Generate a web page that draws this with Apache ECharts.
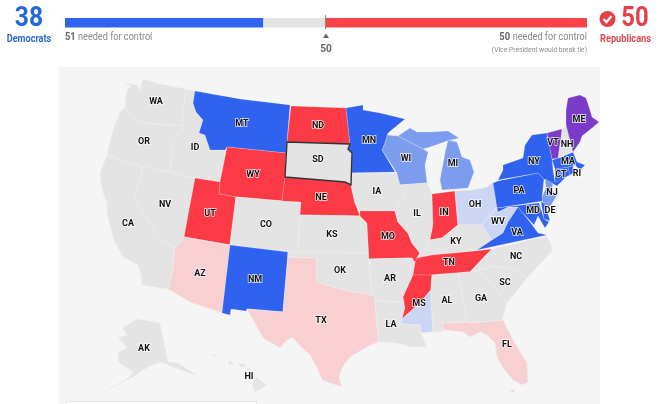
<!DOCTYPE html>
<html><head><meta charset="utf-8">
<script src="https://cdn.jsdelivr.net/npm/echarts@6/dist/echarts.min.js"></script>
<style>html,body{margin:0;padding:0;background:#fff}#c{width:660px;height:404px}</style>
</head><body><div id="c"></div>
<script>
// ---- chart values ----
const seatParties = ['Democrats', 'Undecided', 'Republicans'];
const seatValues = [38, 12, 50];
const needDem = 51, needRep = 50;

const regionCodes = ['WA','OR','CA','NV','ID','MT','WY','UT','CO','AZ','NM','ND','NE','KS','OK','TX','MN','IA','MO','AR','LA','WI','IL','IN','MI','OH','KY','TN','MS','MS2','AL','GA','FL','SC','NC','WV','VA','PA','NY','MD','DE','NJ','CT','RI','MA','NH','VT','ME','AK','HI','SD'];
const regionStatus = ['n','n','n','n','n','D','R','R','n','r','D','R','R','n','n','r','D','n','R','n','n','d','n','R','d','l','n','R','R','l','n','n','r','n','n','l','D','D','D','D','D','d','D','D','D','n','P','P','n','n','n'];
const unlabeled = ['MS2'];

const statusColors = {D:'#2e62ef', d:'#7c9ded', l:'#cbd6f5', R:'#fb3a45', r:'#f8d0d2', P:'#7a3cc8', n:'#e4e4e4'};

// ---- base map geometry (simplified outlines, 660x404 canvas space) ----
const outlines = {
WA:[[[125,83],[131,86],[127,90],[125,103],[125,108],[132,116],[140,122],[155,124],[182,126],[186,89],[160,84],[143,79],[141,85],[140,90],[137,85]]],
OR:[[[125,108],[132,116],[140,122],[155,124],[182,126],[183,130],[173,142],[170,172],[143,167],[107,155],[110,142],[113,130],[120,112]]],
CA:[[[107,155],[143,167],[134,198],[158,237],[175,248],[173,270],[168,289],[142,285],[141,275],[138,265],[123,257],[115,243],[112,233],[107,213],[107,203],[102,190],[100,173]]],
NV:[[[143,167],[170,172],[195,178],[184,237],[181,243],[175,248],[158,237],[134,198]]],
ID:[[[186,89],[195,91],[193,103],[196,112],[203,120],[199,133],[205,135],[210,150],[225,150],[227,147],[220,182],[195,178],[170,172],[173,142],[183,130],[182,126]]],
MT:[[[195,91],[240,99],[290,105],[287,142],[286,153],[227,147],[225,150],[210,150],[205,135],[199,133],[203,120],[196,112],[193,103]]],
WY:[[[227,147],[286,153],[285,178],[282,201],[236,197],[219,194],[220,182]]],
UT:[[[195,178],[220,182],[219,194],[236,197],[230,245],[184,237]]],
CO:[[[236,197],[282,201],[301,202],[300,215],[298,253],[288,252],[230,245]]],
AZ:[[[184,237],[230,245],[222,313],[190,302],[168,289],[173,270],[175,248],[181,243]]],
NM:[[[230,245],[288,252],[283,312],[247,309],[246,311],[231,309],[230,315],[222,313]]],
ND:[[[291,106],[346,108],[350,144],[287,142]]],
SD:[[[287,142],[350,144],[348,149],[352,153],[351,185],[345,182],[333,181],[285,177]]],
NE:[[[285,177],[333,181],[345,182],[351,185],[355,203],[360,216],[300,215],[301,202],[282,201]]],
KS:[[[300,215],[360,216],[367,223],[368,253],[298,253]]],
OK:[[[288,252],[368,253],[369,259],[372,295],[343,290],[317,282],[316,258],[288,257]]],
TX:[[[288,257],[316,258],[317,282],[343,290],[372,295],[375,297],[375,301],[378,337],[378,342],[367,347],[350,357],[342,368],[339,377],[342,387],[330,383],[322,380],[318,370],[310,355],[300,346],[293,338],[287,340],[280,348],[263,338],[247,309],[283,312]]],
MN:[[[346,108],[363,105],[363,110],[380,113],[405,119],[388,133],[385,143],[382,150],[395,172],[352,173],[352,153],[348,149],[350,144]]],
IA:[[[352,173],[397,173],[407,188],[398,207],[395,211],[360,211],[355,203],[351,185],[352,173]]],
MO:[[[360,211],[395,211],[398,222],[408,233],[412,243],[420,253],[417,258],[415,263],[412,258],[369,259],[368,242],[367,223],[360,216]]],
AR:[[[369,259],[412,258],[415,263],[413,275],[403,297],[404,302],[375,301],[375,297],[372,295]]],
LA:[[[375,301],[404,302],[405,308],[402,319],[401,324],[420,325],[421,333],[427,347],[410,347],[397,343],[378,342],[378,337]]],
WI:[[[387,135],[398,136],[423,149],[428,152],[425,165],[427,183],[400,185],[397,173],[382,150],[385,143]]],
IL:[[[400,185],[427,183],[432,193],[433,225],[430,240],[427,247],[420,253],[412,243],[408,233],[398,222],[395,211],[398,207],[407,188]]],
IN:[[[432,194],[455,191],[458,225],[442,238],[430,240],[433,225]]],
MI:[[[[448,140],[457,142],[462,157],[470,160],[474,172],[468,188],[442,190],[440,180],[445,153]]],[[[398,136],[410,128],[417,132],[430,132],[448,131],[459,138],[447,141],[430,147],[423,149]]]],
OH:[[[455,191],[473,190],[487,187],[493,182],[497,207],[490,215],[482,225],[473,225],[458,225]]],
KY:[[[420,253],[427,247],[430,240],[442,238],[458,225],[473,225],[482,225],[485,230],[492,240],[477,250],[432,255],[417,258]]],
TN:[[[417,258],[432,255],[475,251],[492,249],[488,253],[470,272],[458,273],[432,275],[413,275],[415,263]]],
MS:[[[413,275],[432,275],[431,290],[420,303],[402,319],[405,308],[404,302],[403,297]]],
MS2:[[[431,290],[433,332],[421,333],[420,325],[401,324],[402,319],[420,303]]],
AL:[[[432,275],[458,273],[467,322],[443,323],[444,330],[440,332],[433,332],[431,290]]],
GA:[[[458,273],[478,271],[490,281],[507,303],[502,320],[470,323],[467,322]]],
FL:[[[[443,323],[467,322],[470,323],[503,320],[513,340],[527,363],[528,382],[522,385],[513,380],[503,368],[497,357],[495,343],[487,335],[480,332],[470,337],[463,332],[443,330]]],[[[516,390],[512,393],[510,392],[514,389]]]],
SC:[[[478,271],[493,266],[510,268],[527,278],[507,303],[490,281]]],
NC:[[[470,272],[488,253],[492,249],[547,236],[553,250],[527,278],[510,268],[493,266],[478,271]]],
WV:[[[497,207],[498,212],[508,207],[518,207],[508,222],[503,233],[492,240],[485,230],[482,225],[490,215]]],
VA:[[[477,250],[492,240],[503,233],[508,222],[518,207],[522,212],[530,222],[538,233],[547,235]]],
PA:[[[493,183],[498,181],[538,173],[544,179],[542,197],[543,201],[497,208]]],
NY:[[[498,180],[503,170],[503,165],[523,158],[525,145],[532,135],[547,133],[552,159],[553,170],[555,182],[573,170],[557,186],[544,179],[538,173]]],
MD:[[[497,208],[539,203],[544,219],[549,222],[545,228],[538,216],[534,225],[522,212],[518,207],[508,207],[498,212]]],
DE:[[[541,202],[545,203],[550,221],[544,219]]],
NJ:[[[545,179],[553,183],[552,190],[557,195],[550,207],[543,203],[542,197],[546,188]]],
CT:[[[555,169],[568,167],[570,175],[555,182]]],
RI:[[[568,167],[573,166],[574,173],[570,175]]],
MA:[[[552,160],[558,158],[573,152],[577,162],[585,165],[580,170],[575,165],[568,167],[555,169]]],
NH:[[[562,129],[567,126],[573,152],[558,158]]],
VT:[[[547,133],[562,129],[558,158],[552,159]]],
ME:[[[566,125],[566,110],[568,98],[580,95],[586,98],[590,110],[592,117],[599,122],[592,128],[587,132],[582,136],[580,142],[573,152]]],
AK:[[[122,328],[137,319],[160,323],[168,362],[178,363],[197,375],[186,372],[176,368],[160,362],[148,367],[133,377],[103,392],[128,378],[133,372],[118,362],[118,353],[127,347],[118,338],[127,335]]],
HI:[[[[257,377],[267,385],[255,392],[252,384]]],[[[239,364],[246,364],[245,367],[240,367]]],[[[247,367],[251,369],[247,371]]],[[[229,360],[234,364],[229,365]]],[[[212,354],[216,355],[214,357]]]]
};
const multiParts = ['MI','HI','FL'];
const labelPoints = {WA:[156,102],OR:[144,142],ID:[195,148],MT:[242,124],CA:[128,224],NV:[165,205],UT:[210,214],WY:[253,175],CO:[266,225],AZ:[200,274],NM:[255,280],ND:[318,126],SD:[318,160],NE:[321,198],KS:[332,235],OK:[340,271],TX:[321,321],MN:[369,141],IA:[377,192],MO:[388,237],AR:[390,279],LA:[391,325],WI:[406,159],IL:[417,214],IN:[444,213],MI:[453,164],OH:[475,205],KY:[456,242],TN:[449,263],MS:[419,304],MS2:[425,320],AL:[447,301],GA:[481,299],FL:[507,345],SC:[505,283],NC:[516,257],VA:[517,233],WV:[498,222],PA:[519,191],NY:[534,162],MD:[533,211],DE:[550,211],NJ:[552,193],CT:[561,175],RI:[577,174],MA:[568,162],NH:[567,145],VT:[553,143],ME:[579,120],AK:[144,349],HI:[249,377]};

const geojson = {type:'FeatureCollection', features: regionCodes.map(code => ({
  type:'Feature',
  properties:{name:code, cp:labelPoints[code]},
  geometry:{type: multiParts.includes(code) ? 'MultiPolygon' : 'Polygon', coordinates: outlines[code]}
}))};
echarts.registerMap('usa', geojson);

const chart = echarts.init(document.getElementById('c'), null, {renderer:'canvas'});
const face = 'Roboto,sans-serif';
const gray = '#8a8a8a';
function label(text, x, y, font, fill, align, sx){
  return {type:'text', x:x, y:y, scaleX:sx, silent:true,
    style:{text:text, x:0, y:0, align:align, verticalAlign:'middle', font:font+' '+face, fill:fill}};
}

chart.setOption({
  animation:false,
  grid:{left:65, top:18, width:522, height:9.5, containLabel:false},
  xAxis:{type:'value', min:0, max:100, show:false},
  yAxis:{type:'category', data:['seats'], show:false},
  series:[
    {type:'bar', name:seatParties[0], stack:'s', data:[seatValues[0]], barWidth:10, itemStyle:{color:'#2e62ef'}, silent:true},
    {type:'bar', name:seatParties[1], stack:'s', data:[seatValues[1]], barWidth:10, itemStyle:{color:'#e3e3e3'}, silent:true},
    {type:'bar', name:seatParties[2], stack:'s', data:[seatValues[2]], barWidth:10, itemStyle:{color:'#fb4249'}, silent:true},
    {type:'map', map:'usa', silent:true, z:3,
      left:0, top:0, width:660, height:404,
      boundingCoords:[[0,0],[660,404]],
      projection:{project:p=>p, unproject:p=>p},
      selectedMode:false,
      itemStyle:{areaColor:'#e4e4e4', borderColor:'#efefef', borderWidth:0.6},
      label:{show:true, color:'#111', fontFamily:'Roboto,"Liberation Sans",sans-serif', fontWeight:'bold', fontSize:9,
             textBorderColor:'rgba(255,255,255,0.85)', textBorderWidth:1.5},
      data: regionCodes.map((code,i)=>{
        const st = regionStatus[i];
        const it = {name:code, value:1, itemStyle:{areaColor:statusColors[st]}};
        if (st==='D'||st==='d'||st==='R'||st==='P') it.itemStyle.borderColor = 'rgba(255,255,255,0.3)';
        if (code==='SD') it.itemStyle = {areaColor:statusColors[st], borderColor:'#333', borderWidth:1.4};
        if (unlabeled.includes(code)) it.label = {show:false};
        return it;
      })
    }
  ],
  graphic:[
    {type:'rect', z:0, silent:true, shape:{x:59,y:67,width:541,height:337}, style:{fill:'#f6f5f6'}},
    {type:'rect', z:5, silent:true, shape:{x:66.5,y:401.5,width:190,height:4}, style:{fill:'#fff',stroke:'#e6e6e6',lineWidth:1}},
    {type:'line', z:5, silent:true, shape:{x1:325.5,y1:15,x2:325.5,y2:29}, style:{stroke:'#888',lineWidth:1}},
    label(String(seatValues[0]), 29, 19, 'bold 28px', '#2568dc', 'center', 0.88),
    label(seatParties[0], 29, 39, 'bold 10.5px', '#2d68d2', 'center', 0.87),
    label(String(needDem), 65, 37, 'bold 11px', '#666', 'left', 0.85),
    label('needed for control', 78, 37, '11px', gray, 'left', 0.83),
    {type:'polygon', silent:true, shape:{points:[[326,33.5],[329,38],[323,38]]}, style:{fill:'#666'}},
    label(String(seatValues[2]), 326, 49.5, 'bold 11.5px', '#666', 'center', 0.88),
    label('needed for control', 587, 37, '11px', gray, 'right', 0.83),
    label(String(needRep), 510, 37, 'bold 11px', '#666', 'right', 0.85),
    label('(Vice President would break tie)', 587, 50, '7.5px', gray, 'right', 0.9),
    {type:'circle', silent:true, shape:{cx:607.5,cy:19,r:8}, style:{fill:'#e4404a'}},
    {type:'polyline', silent:true, shape:{points:[[603.5,19],[606.5,22],[611.5,16]]}, style:{stroke:'#fff',lineWidth:2.2,fill:null}},
    label(String(seatValues[2]), 635, 19, 'bold 28px', '#e4404a', 'center', 0.85),
    label(seatParties[2], 625.5, 39, 'bold 10.5px', '#dc4a50', 'center', 0.88)
  ]
});
</script></body></html>
